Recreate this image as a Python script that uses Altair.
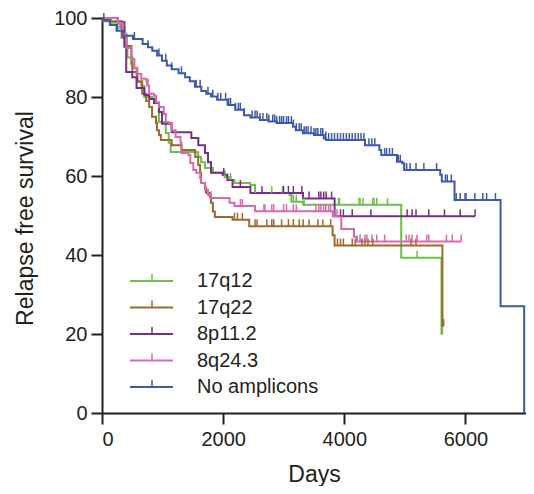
import bisect
import altair as alt
import pandas as pd

series = ["17q12", "17q22", "8p11.2", "8q24.3", "No amplicons"]
colors = ["#6cbf4a", "#9b6a2c", "#7a2b8e", "#d66aad", "#3d5aa8"]

# Kaplan-Meier step points (days, % relapse free)
green_days = [0, 150, 300, 373, 420, 502, 567, 583, 648, 697, 826, 859, 940, 1020, 1053, 1102, 1134,
              1588, 1636, 1700, 1830, 2025, 2122, 2187, 2446, 2527, 3095, 3127, 3321, 4940, 5605, 5620]
green_vals = [100, 98.8, 97.5, 93, 90, 87.3, 85.8, 83.8, 82.8, 80, 79.6, 78.5, 73.7, 73.4, 70.9, 68.4, 66.1,
              64.8, 63.5, 62, 60.8, 59.7, 59, 58.2, 57.7, 55.7, 55.2, 53.5, 52.7, 39.3, 20, 20]

brown_days = [0, 20, 324, 405, 486, 502, 583, 664, 729, 778, 826, 891, 907, 940, 972, 1150, 1312, 1539,
              1588, 1620, 1636, 1700, 1717, 1782, 1798, 1830, 1863, 2155, 2430, 3807, 3840, 5620, 5640]
brown_vals = [100, 99.2, 95, 92.9, 88.4, 86.3, 84, 80.8, 79, 77.5, 75, 73.4, 71.6, 70.4, 69.1, 67.8, 66.6, 64.8,
              62.8, 60.8, 58.2, 57, 55.7, 54.7, 53.2, 51, 49.6, 48.9, 47.3, 45, 42.4, 22, 22]

purple_days = [0, 260, 370, 400, 500, 570, 700, 780, 860, 940, 990, 1150, 1475, 1590, 1700, 1750, 1800,
               1990, 2070, 2155, 2450, 3320, 3840, 6160]
purple_vals = [100, 99, 92.7, 86.3, 85, 82.3, 80.5, 79.5, 78.5, 76.2, 73.2, 71.1, 69.6, 67.8, 65.8, 63.5, 60.8,
               60.3, 59, 57.2, 55.7, 54.3, 49.8, 49.8]

pink_days = [0, 260, 340, 405, 486, 535, 583, 648, 729, 745, 778, 859, 891, 940, 1020, 1053, 1102, 1150,
             1215, 1296, 1312, 1426, 1458, 1507, 1555, 1620, 1636, 1700, 1750, 1798, 2106, 2187, 2527,
             3810, 3950, 4160, 4210, 5930]
pink_vals = [100, 98.8, 96, 92.4, 89.6, 87.4, 85.8, 84.6, 84.2, 82.9, 80.8, 80.3, 78.7, 77.5, 75.7, 73.7, 73.4,
             71.6, 69.9, 68.4, 65.8, 65.3, 63.3, 61.5, 60.8, 59.5, 58.2, 56.5, 55.2, 54.4, 53.2, 52.4, 51.1,
             49.8, 46.6, 44.6, 43.4, 43.4]

blue_days = [0, 20, 130, 240, 345, 510, 670, 760, 830, 910, 990, 1070, 1150, 1264, 1372, 1450, 1534, 1640,
             1720, 1800, 1900, 2074, 2200, 2344, 2450, 2608, 2750, 2884, 3154, 3200, 3316, 3500, 3662, 3700,
             4342, 4580, 4610, 4870, 4957, 4990, 5584, 5610, 5820, 6580, 6970]
blue_vals = [100, 99.5, 98.2, 96.8, 95.5, 94.7, 93.4, 92.6, 91.7, 90.5, 89.2, 88, 87, 86, 85, 84, 82.6, 81.5,
             80.8, 80.1, 79.3, 78, 76.8, 75.4, 74.8, 74.2, 73.8, 73.4, 72.5, 71.6, 70.8, 70.4, 69.5, 69.1,
             67.8, 66.6, 65.3, 63.6, 63.2, 61.5, 60.3, 58.6, 53.9, 27, 0]

# censored observations (days)
green_cens = [2025, 2122, 2527, 2803, 2981, 3159, 3208, 3337, 3904, 3920, 4244, 4260, 4309, 4471, 4490,
              4536, 4714, 5200, 5620]
brown_cens = [2187, 2236, 2317, 2527, 2560, 2722, 2803, 2835, 2965, 3078, 3159, 3256, 3321, 3418, 3564,
              3645, 3775, 3888, 3937, 3985, 4131, 4180, 4293, 4342, 4390, 4471, 5103, 5184, 5640]
purple_cens = [2010, 2284, 2641, 2997, 3078, 3159, 3300, 3418, 3580, 3613, 3661, 3700, 3791, 3937, 3985,
               4131, 4439, 5038, 5119, 5184, 5395, 5654, 5913, 6160]
pink_cens = [760, 1800, 2284, 2317, 2673, 2689, 2803, 2835, 2997, 3046, 3159, 3208, 3532, 3580, 3613, 3661,
             3694, 3742, 3775, 3830, 3880, 4260, 4342, 4374, 4455, 4536, 4666, 5022, 5070, 5119, 5200,
             5362, 5395, 5686, 5783, 5930]
blue_cens = [30, 259, 535, 761, 940, 1053, 1150, 1312, 1555, 1620, 1750, 1830, 1912, 1960, 2041, 2090, 2122,
             2203, 2252, 2284, 2349, 2479, 2527, 2560, 2608, 2657, 2722, 2754, 2819, 2851, 2884, 2932, 2965,
             2997, 3046, 3078, 3127, 3159, 3208, 3256, 3289, 3338, 3370, 3402, 3451, 3500, 3532, 3564, 3613,
             3645, 3694, 3742, 3791, 3839, 3888, 3937, 3985, 4034, 4082, 4131, 4180, 4228, 4277, 4325, 4406,
             4455, 4504, 4666, 4698, 4747, 4795, 4892, 4925, 4990, 5030, 5087, 5184, 5314, 5524, 5670, 5700,
             5767, 5848, 5913, 5994, 6010, 6156, 6286, 6350, 6496]

curves = [
    (green_days, green_vals, green_cens),
    (brown_days, brown_vals, brown_cens),
    (purple_days, purple_vals, purple_cens),
    (pink_days, pink_vals, pink_cens),
    (blue_days, blue_vals, blue_cens),
]

line_rows, cens_rows = [], []
for name, (days, vals, cens) in zip(series, curves):
    for d, v in zip(days, vals):
        line_rows.append({"series": name, "day": d, "surv": v})
    for c in cens:
        i = bisect.bisect_right(days, c) - 1
        cens_rows.append({"series": name, "day": c, "surv": vals[i]})

lines_df = pd.DataFrame(line_rows)
cens_df = pd.DataFrame(cens_rows)
legend_df = pd.DataFrame({"series": series, "row": list(range(len(series)))})

FONT = "Liberation Sans"
INK = "#231f20"

color = alt.Color("series:N", scale=alt.Scale(domain=series, range=colors), legend=None)
x_enc = alt.X("day:Q", scale=alt.Scale(domain=[0, 7000], nice=False),
              axis=alt.Axis(values=[0, 2000, 4000, 6000], format="d", title="Days", labelPadding=5,
                            titleBaseline="alphabetic", titleY=68))
y_enc = alt.Y("surv:Q", scale=alt.Scale(domain=[0, 100], nice=False),
              axis=alt.Axis(values=[0, 20, 40, 60, 80, 100], title="Relapse free survival",
                            labelPadding=4, titleAngle=270, titleAlign="center",
                            titleBaseline="middle", titleX=-77, titleY=200))

line_layer = alt.Chart(lines_df).mark_line(interpolate="step-after", strokeWidth=2).encode(
    x=x_enc, y=y_enc, color=color, detail="series:N")
cens_layer = alt.Chart(cens_df).mark_rule(strokeWidth=1.5, y2Offset=-7).encode(
    x="day:Q", y="surv:Q", y2=alt.Y2("surv:Q"), color=color)

main = alt.layer(line_layer, cens_layer)

y_leg = alt.Y("row:Q", scale=alt.Scale(domain=[0, 4], range=[263, 369]), axis=None)
leg_line = alt.Chart(legend_df).mark_rule(strokeWidth=2).encode(
    x=alt.value(28), x2=alt.value(71), y=y_leg, color=color)
leg_tick = alt.Chart(legend_df).mark_rule(strokeWidth=1.5, y2Offset=-7).encode(
    x=alt.value(50), y=y_leg, y2=alt.Y2("row:Q"), color=color)
leg_text = alt.Chart(legend_df).mark_text(align="left", baseline="middle", fontSize=20, font=FONT,
                                          color=INK).encode(
    x=alt.value(95), y=y_leg, text="series:N")
legend = alt.layer(leg_line, leg_tick, leg_text)

chart = alt.layer(main, legend).resolve_scale(y="independent").properties(
    width=424, height=395,
    autosize=alt.AutoSizeParams(type="none"),
    padding={"left": 94, "top": 10, "right": 0, "bottom": 73},
).configure_view(stroke=None).configure_axis(
    grid=False, domainColor=INK, domainWidth=2, tickColor=INK, tickWidth=2, tickSize=11,
    labelFont=FONT, labelFontSize=20, labelColor=INK,
    titleFont=FONT, titleFontSize=23, titleFontWeight="normal", titleColor=INK,
)

chart.save("out.html", embed_options={"renderer": "svg", "actions": False})
